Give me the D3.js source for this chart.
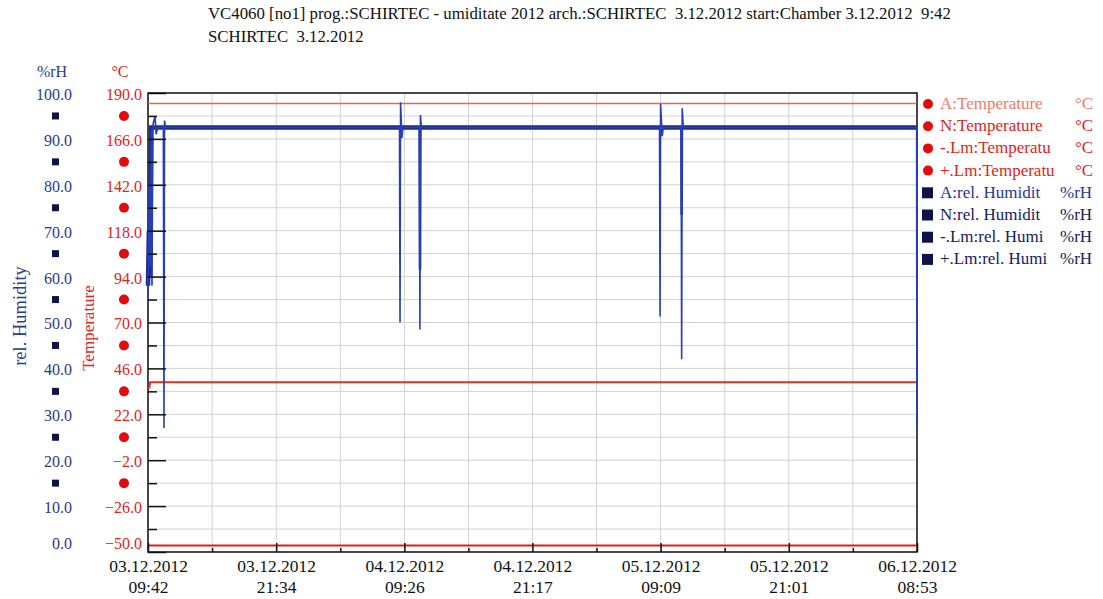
<!DOCTYPE html>
<html>
<head>
<meta charset="utf-8">
<script src="https://cdn.jsdelivr.net/npm/d3@7"></script>
<style>
  body { margin: 0; background: #fff; }
  svg text { font-family: "Liberation Serif", "DejaVu Serif", serif; }
</style>
</head>
<body>
<svg id="chart" width="1103" height="599"></svg>
<script>
// ---- data ----
var titleLines = [
    "VC4060 [no1] prog.:SCHIRTEC - umiditate 2012 arch.:SCHIRTEC  3.12.2012 start:Chamber 3.12.2012  9:42",
    "SCHIRTEC  3.12.2012"
];
var startLabel = "03.12.2012 09:42";
var endLabel = "06.12.2012 08:53";
var xTickLabels = ["03.12.2012 09:42", "03.12.2012 21:34", "04.12.2012 09:26", "04.12.2012 21:17",
    "05.12.2012 09:09", "05.12.2012 21:01", "06.12.2012 08:53"];
var humTicks = [0, 10, 20, 30, 40, 50, 60, 70, 80, 90, 100];
var tempTicks = [-50, -26, -2, 22, 46, 70, 94, 118, 142, 166, 190];

// hours since start
var humActualHours = [0, 0.1, 0.2, 0.3, 0.37, 0.45, 0.65, 0.75, 0.9, 1.42, 1.48, 1.53, 1.62,
    23.28, 23.33, 23.38, 23.5, 23.6, 25.12, 25.17, 25.22, 25.3,
    47.35, 47.4, 47.45, 47.6, 47.7, 49.35, 49.4, 49.45, 49.55, 71.15, 71.17];
var humActualValues = [55, 80, 62, 92, 58, 93, 95, 91, 92.5, 92.5, 27, 94, 92.5,
    92.5, 50, 98, 90.2, 92.5, 92.5, 48.5, 95.2, 92.5,
    92.5, 51.3, 97.6, 90.6, 92.5, 92.5, 42, 96.7, 92.5, 92.5, 27];
var humNominalHours = [0, 0.08, 0.2, 0.3, 71.17];
var humNominalValues = [58, 70, 60, 92.5, 92.5];
var humMeanHours = [25.15, 25.18, 25.21, 49.38, 49.4, 49.42];
var humMeanValues = [92.5, 61.5, 92.5, 92.5, 73.5, 92.5];
var tempAHours = [0, 71.17];
var tempAValues = [184.5, 184.5];
var tempNHours = [0, 0.12, 0.2, 71.17];
var tempNValues = [36, 36, 38.7, 38.7];
var tempLmHours = [0, 71.17];
var tempLmValues = [-46.6, -46.6];

var legendLabels = ["A:Temperature", "N:Temperature", "-.Lm:Temperatu", "+.Lm:Temperatu",
    "A:rel. Humidit", "N:rel. Humidit", "-.Lm:rel. Humi", "+.Lm:rel. Humi"];
var legendUnits = ["°C", "°C", "°C", "°C", "%rH", "%rH", "%rH", "%rH"];

// ---- styling ----
var red = "#e0241a", blueText = "#2a3a8c";
var legendColors = ["#ef7b68", red, red, red, "#22379a", "#142160", "#142160", "#142160"];

var svg = d3.select("#chart");
var plotLeft = 148, plotRight = 917, plotTop = 93, plotBottom = 552;

var parse = d3.timeParse("%d.%m.%Y %H:%M");
var t0 = parse(startLabel), t1 = parse(endLabel);
var x = d3.scaleTime().domain([t0, t1]).range([plotLeft, plotRight]);
var yH = d3.scaleLinear().domain([0, 100]).range([plotBottom, plotTop]);
var yT = d3.scaleLinear().domain([-50, 190]).range([plotBottom, plotTop]);

function toDate(h) { return new Date(t0.getTime() + h * 3600000); }
function pairs(hours, vals) { return hours.map(function(h, i){ return [toDate(h), vals[i]]; }); }

// title
svg.append("g").selectAll("text").data(titleLines).enter().append("text")
    .attr("x", 208).attr("y", function(d, i){ return 19 + i * 23; })
    .attr("font-size", 16.8).attr("fill", "#111").attr("xml:space", "preserve")
    .style("white-space", "pre").text(function(d){ return d; });

// grid
var xTickDates = xTickLabels.map(parse);
var xMid = [];
for (var i = 0; i < xTickDates.length - 1; i++) {
    xMid.push(new Date((xTickDates[i].getTime() + xTickDates[i + 1].getTime()) / 2));
}
var humMid = humTicks.slice(0, -1).map(function(d){ return d + 5; });

var grid = svg.append("g");
grid.selectAll("line.h").data(humTicks.concat(humMid)).enter().append("line")
    .attr("x1", plotLeft).attr("x2", plotRight)
    .attr("y1", function(d){ return yH(d); }).attr("y2", function(d){ return yH(d); })
    .attr("stroke", "#d2d2d2").attr("stroke-width", 1);
grid.selectAll("line.v").data(xTickDates.concat(xMid)).enter().append("line")
    .attr("y1", plotTop).attr("y2", plotBottom)
    .attr("x1", function(d){ return x(d); }).attr("x2", function(d){ return x(d); })
    .attr("stroke", "#d2d2d2").attr("stroke-width", 1);

// frame
svg.append("rect").attr("x", plotLeft).attr("y", plotTop)
    .attr("width", plotRight - plotLeft).attr("height", plotBottom - plotTop)
    .attr("fill", "none").attr("stroke", "#111").attr("stroke-width", 1.5);

// series
var line = d3.line().x(function(d){ return x(d[0]); });
svg.append("path").datum(pairs(tempAHours, tempAValues))
    .attr("d", line.y(function(d){ return yT(d[1]); }))
    .attr("fill", "none").attr("stroke", "#e9654b").attr("stroke-width", 1.6);
svg.append("path").datum(pairs(tempNHours, tempNValues))
    .attr("d", line.y(function(d){ return yT(d[1]); }))
    .attr("fill", "none").attr("stroke", "#e2301f").attr("stroke-width", 2);
svg.append("path").datum(pairs(tempLmHours, tempLmValues))
    .attr("d", line.y(function(d){ return yT(d[1]); }))
    .attr("fill", "none").attr("stroke", "#e01c1c").attr("stroke-width", 2.2);
svg.append("path").datum(pairs(humNominalHours, humNominalValues))
    .attr("d", line.y(function(d){ return yH(d[1]); }))
    .attr("fill", "none").attr("stroke", "#1b2a96").attr("stroke-width", 4.5);
svg.append("path").datum(pairs(humMeanHours, humMeanValues))
    .attr("d", line.y(function(d){ return yH(d[1]); }))
    .attr("fill", "none").attr("stroke", "#1e2f9e").attr("stroke-width", 2.6);
svg.append("path").datum(pairs(humActualHours, humActualValues))
    .attr("d", line.y(function(d){ return yH(d[1]); }))
    .attr("fill", "none").attr("stroke", "#2640b4").attr("stroke-width", 1.6);

// left axis ticks, drawn inside the plot
var majorAxis = svg.append("g").attr("transform", "translate(" + plotLeft + ",0)")
    .call(d3.axisRight(yH).tickValues(humTicks).tickSize(18).tickFormat(""));
var minorAxis = svg.append("g").attr("transform", "translate(" + plotLeft + ",0)")
    .call(d3.axisRight(yH).tickValues(humMid).tickSize(9).tickFormat(""));
[majorAxis, minorAxis].forEach(function(g){
    g.select(".domain").remove();
    g.selectAll("line").attr("stroke", "#111").attr("stroke-width", 1.5);
});

// tick labels
var humAxis = svg.append("g").attr("transform", "translate(77,0)")
    .call(d3.axisLeft(yH).tickValues(humTicks).tickSize(0).tickPadding(5).tickFormat(d3.format(".1f")));
var tempAxis = svg.append("g").attr("transform", "translate(" + (plotLeft - 1) + ",0)")
    .call(d3.axisLeft(yT).tickValues(tempTicks).tickSize(0).tickPadding(5).tickFormat(d3.format(".1f")));
[[humAxis, blueText], [tempAxis, red]].forEach(function(p){
    p[0].select(".domain").remove();
    p[0].selectAll("text").attr("font-size", 16).attr("fill", p[1])
        .attr("font-family", "Liberation Serif")
        .attr("dy", function(d, i){ return i === 0 ? "-0.25em" : "0.4em"; });
});

// markers between labels
svg.append("g").selectAll("rect").data(humMid.slice(1)).enter().append("rect")
    .attr("x", 52).attr("y", function(d){ return yH(d) - 3.5; })
    .attr("width", 7).attr("height", 7).attr("fill", "#0d1448");
svg.append("g").selectAll("circle").data(humMid.slice(1)).enter().append("circle")
    .attr("cx", 124).attr("cy", function(d){ return yH(d); })
    .attr("r", 5).attr("fill", "#e30c0c");

// unit labels and axis titles
svg.append("text").attr("x", 52).attr("y", 77).attr("font-size", 16).attr("fill", blueText)
    .attr("text-anchor", "middle").text("%rH");
svg.append("text").attr("x", 120).attr("y", 77).attr("font-size", 16).attr("fill", red)
    .attr("text-anchor", "middle").text("°C");
svg.append("text").attr("transform", "translate(26,316) rotate(-90)").attr("font-size", 18.5)
    .attr("fill", blueText).attr("text-anchor", "middle").text("rel. Humidity");
svg.append("text").attr("transform", "translate(94,328) rotate(-90)").attr("font-size", 17)
    .attr("fill", red).attr("text-anchor", "middle").text("Temperature");

// x axis: ticks pointing up into the plot
var xMajor = svg.append("g").attr("transform", "translate(0," + plotBottom + ")")
    .call(d3.axisBottom(x).tickValues(xTickDates).tickSizeInner(-9).tickSizeOuter(0).tickPadding(8)
        .tickFormat(function(d, i){ return xTickLabels[i]; }));
var xMinor = svg.append("g").attr("transform", "translate(0," + plotBottom + ")")
    .call(d3.axisBottom(x).tickValues(xMid).tickSizeInner(-4).tickSizeOuter(0).tickFormat(""));
[xMajor, xMinor].forEach(function(g){
    g.select(".domain").remove();
    g.selectAll("line").attr("stroke", "#111").attr("stroke-width", 1.5);
});
xMajor.selectAll("text").each(function(d, i){
    var parts = xTickLabels[i].split(" ");
    var t = d3.select(this).text("").attr("font-size", 17.5).attr("fill", "#111")
        .attr("font-family", "Liberation Serif").attr("dy", null);
    t.append("tspan").attr("x", 0).attr("dy", "0.71em").text(parts[0]);
    t.append("tspan").attr("x", 0).attr("dy", "1.2em").text(parts[1]);
});

// legend
var rows = svg.append("g").selectAll("g").data(legendLabels).enter().append("g")
    .attr("transform", function(d, i){ return "translate(0," + (104 + i * 22.2) + ")"; });
rows.each(function(d, i){
    var g = d3.select(this);
    if (i < 4) g.append("circle").attr("cx", 928).attr("cy", 0).attr("r", 5).attr("fill", "#e30c0c");
    else g.append("rect").attr("x", 922).attr("y", -5.5).attr("width", 11).attr("height", 11).attr("fill", "#0d1448");
    g.append("text").attr("x", 940).attr("y", 5).attr("font-size", 17).attr("fill", legendColors[i]).text(d);
    g.append("text").attr("x", legendUnits[i] === "°C" ? 1075 : 1060).attr("y", 5).attr("font-size", 17)
        .attr("fill", legendColors[i]).text(legendUnits[i]);
});
</script>
</body>
</html>
